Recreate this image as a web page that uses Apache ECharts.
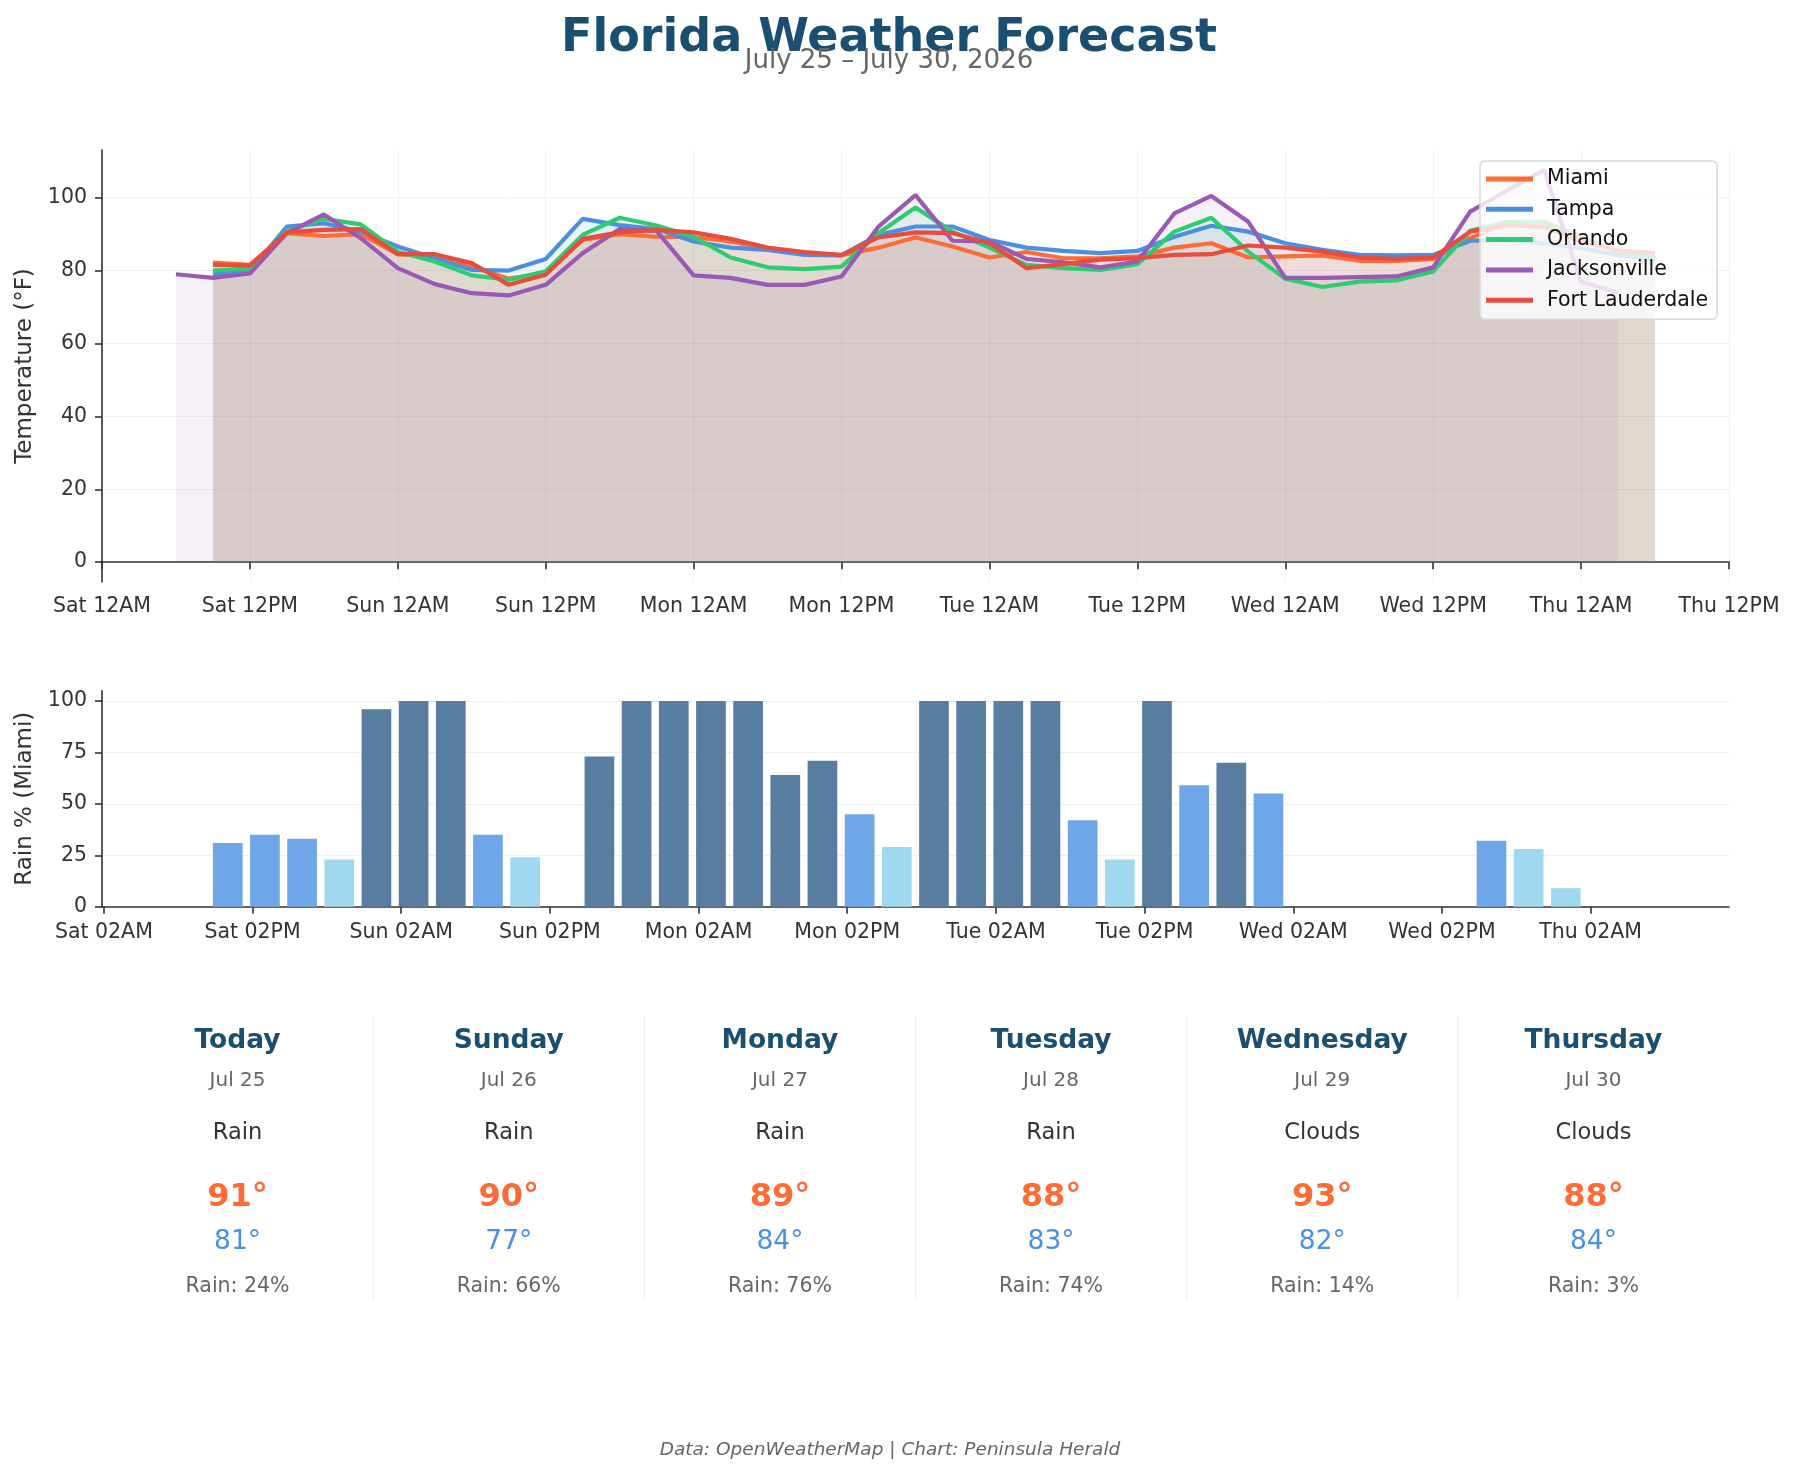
<!DOCTYPE html>
<html>
<head>
<meta charset="utf-8">
<title>Florida Weather Forecast</title>
<script src="https://cdn.jsdelivr.net/npm/echarts@6/dist/echarts.min.js"></script>
<style>
  html, body { margin: 0; padding: 0; background: #fff; }
  #chart { width: 1795px; height: 1474px; }
</style>
</head>
<body>
<div id="chart"></div>
<script>
const FONT = '"DejaVu Sans", sans-serif';

const cityNames = ['Miami', 'Tampa', 'Orlando', 'Jacksonville', 'Fort Lauderdale'];
const cityColors = ['#FF6B35', '#4A90E2', '#2ECC71', '#9B59B6', '#E74C3C'];

// hours after Sat 12AM, one reading every 3 h
const forecastHours = [9, 12, 15, 18, 21, 24, 27, 30, 33, 36, 39, 42, 45, 48, 51, 54, 57, 60, 63, 66,
  69, 72, 75, 78, 81, 84, 87, 90, 93, 96, 99, 102, 105, 108, 111, 114, 117, 120, 123, 126];
const jacksonvilleHours = [6, 9, 12, 15, 18, 21, 24, 27, 30, 33, 36, 39, 42, 45, 48, 51, 54, 57, 60, 63,
  66, 69, 72, 75, 78, 81, 84, 87, 90, 93, 96, 99, 102, 105, 108, 111, 114, 117, 120, 123];

const miamiTemps = [82.2, 81.6, 90.3, 89.5, 90.0, 84.5, 83.9, 81.1, 77.8, 79.3, 88.4, 90.0, 89.3, 89.2,
  88.0, 86.0, 84.8, 84.2, 86.3, 89.1, 86.6, 83.6, 85.1, 83.4, 83.4, 83.9, 86.3, 87.5, 83.6, 83.9,
  84.2, 82.7, 82.7, 83.2, 88.9, 93.2, 93.4, 89.3, 85.2, 84.3];
const tampaTemps = [79.0, 79.9, 92.1, 93.0, 90.7, 86.6, 83.4, 80.2, 80.0, 83.2, 94.2, 92.5, 91.4, 88.0,
  86.3, 85.7, 84.3, 84.2, 89.8, 92.1, 92.1, 88.4, 86.3, 85.4, 84.8, 85.4, 89.3, 92.3, 90.7, 87.5,
  85.7, 84.3, 84.2, 84.3, 88.2, 88.5, 87.5, 86.2, 84.3, 83.0];
const orlandoTemps = [80.0, 80.6, 90.9, 94.2, 92.7, 85.2, 82.5, 78.7, 77.5, 79.8, 89.8, 94.5, 92.4, 89.3,
  83.6, 80.9, 80.4, 81.1, 90.3, 97.3, 90.7, 86.3, 81.6, 80.7, 80.2, 81.8, 90.7, 94.5, 85.2, 77.8,
  75.5, 77.0, 77.3, 79.8, 90.9, 93.4, 93.4, 88.5, 85.5, 83.5];
const jacksonvilleTemps = [79.0, 78.0, 79.2, 90.3, 95.4, 88.9, 80.7, 76.3, 73.8, 73.2, 76.1, 84.8, 91.4,
  90.9, 78.7, 78.0, 76.1, 76.1, 78.4, 92.1, 100.7, 88.2, 88.0, 83.2, 82.3, 80.9, 82.5, 95.7, 100.5,
  93.4, 78.0, 78.0, 78.2, 78.4, 80.9, 96.2, 102.0, 107.6, 77.0, 73.9];
const fortLauderdaleTemps = [81.6, 81.4, 90.5, 91.2, 91.4, 84.5, 84.5, 82.1, 76.1, 78.9, 88.7, 90.5, 91.2,
  90.5, 88.7, 86.3, 85.1, 84.3, 89.1, 90.5, 90.3, 87.5, 80.7, 81.8, 83.0, 83.4, 84.3, 84.5, 86.9,
  86.3, 85.2, 83.6, 83.2, 83.6, 90.7, 92.5, 92.0, 88.0, 85.5, 84.8];

const cityHours = [forecastHours, forecastHours, forecastHours, jacksonvilleHours, forecastHours];
const cityTemps = [miamiTemps, tampaTemps, orlandoTemps, jacksonvilleTemps, fortLauderdaleTemps];

// Miami chance of rain (%) at forecastHours
const miamiRain = [0, 31, 35, 33, 23, 96, 100, 100, 35, 24, 0, 73, 100, 100, 100, 100, 64, 71, 45, 29,
  100, 100, 100, 100, 42, 23, 100, 59, 70, 55, 0, 0, 0, 0, 0, 32, 28, 9, 0, 0];

const tempTickLabels = ['Sat 12AM', 'Sat 12PM', 'Sun 12AM', 'Sun 12PM', 'Mon 12AM', 'Mon 12PM',
  'Tue 12AM', 'Tue 12PM', 'Wed 12AM', 'Wed 12PM', 'Thu 12AM', 'Thu 12PM'];
const tempTicks = [0, 20, 40, 60, 80, 100];
const rainTickHours = [2, 14, 26, 38, 50, 62, 74, 86, 98, 110, 122];
const rainTickLabels = ['Sat 02AM', 'Sat 02PM', 'Sun 02AM', 'Sun 02PM', 'Mon 02AM', 'Mon 02PM',
  'Tue 02AM', 'Tue 02PM', 'Wed 02AM', 'Wed 02PM', 'Thu 02AM'];
const rainTicks = [0, 25, 50, 75, 100];

const dayNames = ['Today', 'Sunday', 'Monday', 'Tuesday', 'Wednesday', 'Thursday'];
const dayDates = ['Jul 25', 'Jul 26', 'Jul 27', 'Jul 28', 'Jul 29', 'Jul 30'];
const dayConditions = ['Rain', 'Rain', 'Rain', 'Rain', 'Clouds', 'Clouds'];
const dayHighs = [91, 90, 89, 88, 93, 88];
const dayLows = [81, 77, 84, 83, 82, 84];
const dayRain = [24, 66, 76, 74, 14, 3];

const rainColor = (value) => {
  if (value >= 60) return '#587DA1';
  if (value >= 30) return '#6EA6E8';
  return '#9FD8EF';
};

const axisCommon = {
  axisLine: { lineStyle: { color: '#333', width: 1.6 } },
  axisTick: { length: 7, lineStyle: { color: '#333', width: 1.6 } },
};
const labelCommon = { color: '#333', fontSize: 20.5, fontFamily: FONT };

// day cards under the charts
const cardLeft = 102;
const cardWidth = 1627 / 6;
const cardGraphics = [];
dayNames.forEach((name, i) => {
  const cx = cardLeft + (i + 0.5) * cardWidth;
  const rows = [
    { text: name, y: 1041, font: 'bold 26.5px ' + FONT, fill: '#1B4F72' },
    { text: dayDates[i], y: 1080.5, font: '20px ' + FONT, fill: '#666' },
    { text: dayConditions[i], y: 1133.5, font: '22.5px ' + FONT, fill: '#333' },
    { text: dayHighs[i] + '°', y: 1197.5, font: 'bold 32px ' + FONT, fill: '#FF6B35' },
    { text: dayLows[i] + '°', y: 1242.5, font: '26.5px ' + FONT, fill: '#4A90E2' },
    { text: 'Rain: ' + dayRain[i] + '%', y: 1286.5, font: '20.5px ' + FONT, fill: '#666' },
  ];
  rows.forEach((row) => {
    cardGraphics.push({
      type: 'text',
      style: { text: row.text, x: cx, y: row.y, align: 'center', verticalAlign: 'middle', font: row.font, fill: row.fill },
    });
  });
  if (i > 0) {
    const sx = cardLeft + i * cardWidth;
    cardGraphics.push({
      type: 'line',
      shape: { x1: sx, y1: 1016, x2: sx, y2: 1300 },
      style: { stroke: '#eeeeee', lineWidth: 1.2 },
    });
  }
});

const chart = echarts.init(document.getElementById('chart'));

chart.setOption({
  animation: false,
  backgroundColor: '#fff',
  textStyle: { fontFamily: FONT },
  graphic: [
    {
      type: 'text',
      style: { text: 'Florida Weather Forecast', x: 889, y: 39, align: 'center', verticalAlign: 'middle',
        font: 'bold 46px ' + FONT, fill: '#1B4F72' },
    },
    {
      type: 'text',
      style: { text: 'July 25 – July 30, 2026', x: 889, y: 61.5, align: 'center', verticalAlign: 'middle',
        font: '26px ' + FONT, fill: '#666' },
    },
    {
      type: 'text',
      style: { text: 'Data: OpenWeatherMap | Chart: Peninsula Herald', x: 890, y: 1450, align: 'center',
        verticalAlign: 'middle', font: 'italic 18.5px ' + FONT, fill: '#666' },
    },
    ...cardGraphics,
  ],
  legend: {
    data: cityNames,
    orient: 'vertical',
    left: 1480,
    top: 161,
    icon: 'rect',
    itemWidth: 47,
    itemHeight: 5,
    itemGap: 6.3,
    padding: [6, 9, 7, 6],
    backgroundColor: 'rgba(255,255,255,0.8)',
    borderColor: '#d9d9d9',
    borderWidth: 1.5,
    borderRadius: 5,
    textStyle: { fontSize: 20.5, fontFamily: FONT, color: '#111', lineHeight: 24, padding: [0, 0, 0, 9] },
  },
  grid: [
    { left: 102, top: 150, width: 1627, height: 432 },
    { left: 102, top: 690.7, width: 1627, height: 216 },
  ],
  xAxis: [
    {
      gridIndex: 0,
      type: 'value',
      min: 0,
      max: 132,
      interval: 12,
      ...axisCommon,
      axisLabel: { ...labelCommon, margin: 14, formatter: (v) => tempTickLabels[Math.round(v / 12)] },
      splitLine: { show: true, lineStyle: { color: '#f0f0f0', width: 1 } },
    },
    {
      gridIndex: 1,
      type: 'value',
      min: 1.85,
      max: 133.17,
      axisLine: axisCommon.axisLine,
      axisTick: { ...axisCommon.axisTick, customValues: rainTickHours },
      axisLabel: { ...labelCommon, margin: 15, customValues: rainTickHours,
        formatter: (v) => rainTickLabels[rainTickHours.indexOf(v)] },
      splitLine: { show: false },
    },
  ],
  yAxis: [
    {
      gridIndex: 0,
      type: 'value',
      min: -5.45,
      max: 113.1,
      name: 'Temperature (°F)',
      nameLocation: 'middle',
      nameGap: 64,
      nameTextStyle: { fontSize: 23, color: '#333', fontFamily: FONT },
      axisLine: { show: true, lineStyle: { color: '#333', width: 1.6 } },
      axisTick: { show: true, ...axisCommon.axisTick, customValues: tempTicks },
      axisLabel: { ...labelCommon, margin: 15, customValues: tempTicks },
      splitLine: { show: true, lineStyle: { color: '#f0f0f0', width: 1 } },
    },
    {
      gridIndex: 1,
      type: 'value',
      min: 0,
      max: 105,
      name: 'Rain % (Miami)',
      nameLocation: 'middle',
      nameGap: 58,
      nameTextStyle: { fontSize: 23, color: '#333', fontFamily: FONT },
      axisLine: { show: true, lineStyle: { color: '#333', width: 1.6 } },
      axisTick: { show: true, ...axisCommon.axisTick, customValues: rainTicks },
      axisLabel: { ...labelCommon, margin: 15, customValues: rainTicks },
      splitLine: { show: true, lineStyle: { color: '#f0f0f0', width: 1 } },
    },
  ],
  series: [
    // translucent fills go underneath every line
    ...cityNames.map((name, i) => ({
      type: 'line',
      name: name + ' fill',
      xAxisIndex: 0,
      yAxisIndex: 0,
      data: cityHours[i].map((h, k) => [h, cityTemps[i][k]]),
      symbol: 'none',
      silent: true,
      lineStyle: { width: 0, opacity: 0 },
      areaStyle: { color: cityColors[i], opacity: 0.09 },
      z: 1,
    })),
    ...cityNames.map((name, i) => ({
      type: 'line',
      name,
      xAxisIndex: 0,
      yAxisIndex: 0,
      data: cityHours[i].map((h, k) => [h, cityTemps[i][k]]),
      symbol: 'none',
      color: cityColors[i],
      lineStyle: { width: 4.2, color: cityColors[i] },
      z: 2,
    })),
    {
      type: 'bar',
      name: 'Rain % (Miami)',
      xAxisIndex: 1,
      yAxisIndex: 1,
      barWidth: 29.7,
      data: forecastHours.map((h, k) => [h, miamiRain[k]]),
      itemStyle: { color: (p) => rainColor(p.value[1]) },
    },
  ],
});
</script>
</body>
</html>
